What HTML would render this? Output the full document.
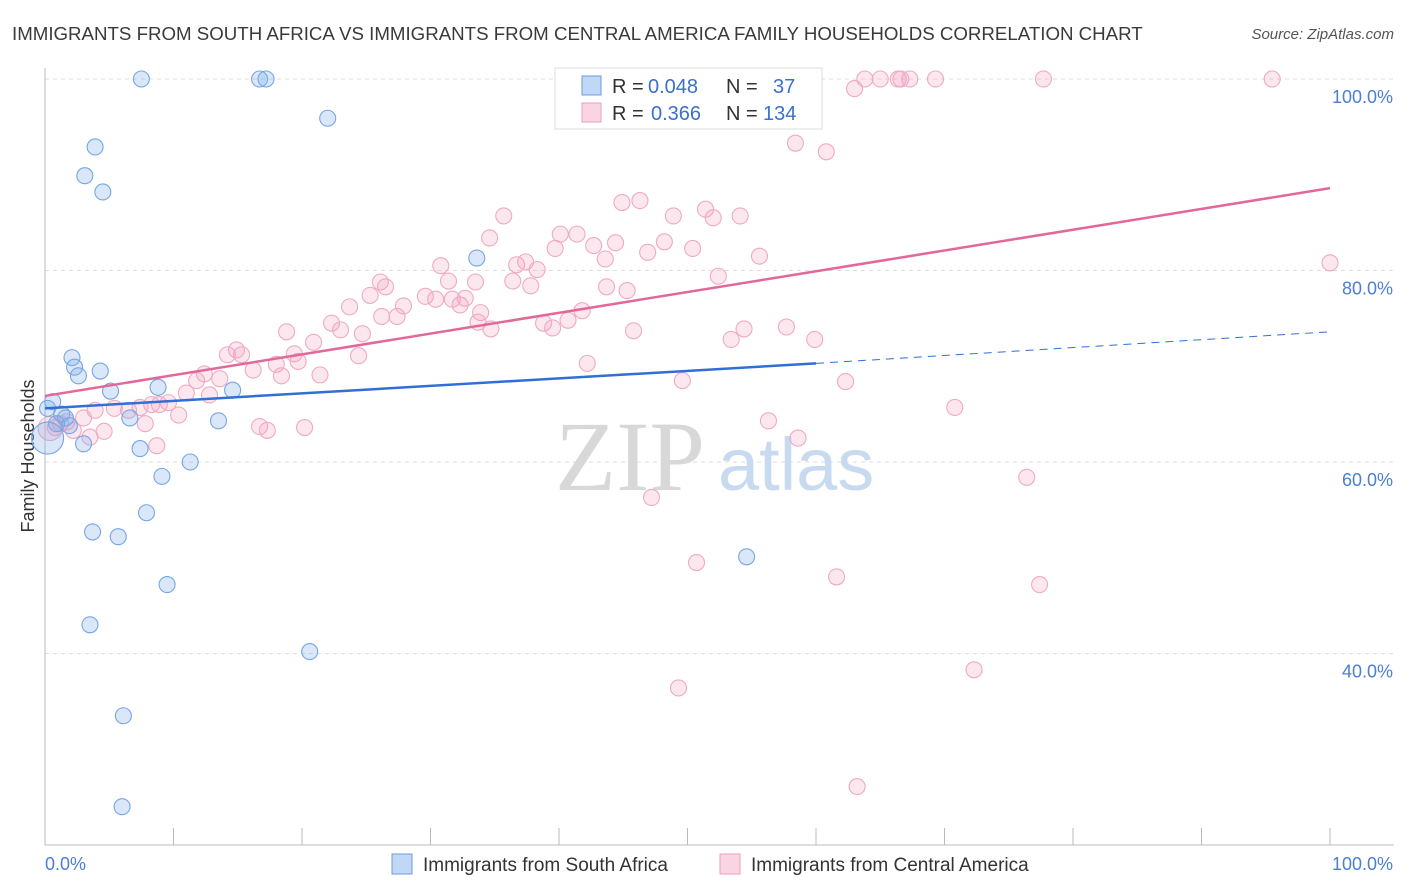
<!DOCTYPE html>
<html><head><meta charset="utf-8"><style>
body{margin:0;background:#fff;font-family:"Liberation Sans",sans-serif}
svg{display:block}
</style></head><body>
<svg id="chart" width="1406" height="892" xmlns="http://www.w3.org/2000/svg" font-family="Liberation Sans, sans-serif">
<text x="12" y="40" font-size="18.7" fill="#3a3a3a">IMMIGRANTS FROM SOUTH AFRICA VS IMMIGRANTS FROM CENTRAL AMERICA FAMILY HOUSEHOLDS CORRELATION CHART</text>
<text x="1394" y="39" font-size="15" fill="#555" font-style="italic" text-anchor="end">Source: ZipAtlas.com</text>
<g id="grid"></g>
<g>
<text x="555" y="490" font-size="100" fill="#d8d8d8" font-family="Liberation Serif, serif">ZIP</text>
<text x="718" y="490" font-size="74" fill="#c8daf0">atlas</text>
</g>
<line x1="45" y1="845" x2="1394" y2="845" stroke="#bbb"/>
<line x1="45" y1="68" x2="45" y2="845" stroke="#bbb"/>
<g id="xticks"></g>
<g id="ylabels"></g>
<text x="45" y="870" font-size="18" fill="#4a7fd4">0.0%</text>
<text x="1393" y="870" font-size="18" fill="#4a7fd4" text-anchor="end">100.0%</text>
<text transform="translate(34,456) rotate(-90)" font-size="18" fill="#333" text-anchor="middle">Family Households</text>
<g id="pink"></g>
<g id="blue"></g>
<g id="lines"></g>
<g>
<rect x="555" y="68" width="267" height="61" fill="#fff" stroke="#ddd"/>
<rect x="582" y="76" width="19" height="19" fill="rgba(130,175,235,0.5)" stroke="#6a9ee0"/>
<rect x="582" y="103" width="19" height="19" fill="rgba(245,160,190,0.45)" stroke="#e8a0b8"/>
<text x="612" y="93" font-size="20" fill="#333">R =</text>
<text x="648" y="93" font-size="20" fill="#3a70cc">0.048</text>
<text x="726" y="93" font-size="20" fill="#333">N =</text>
<text x="773" y="93" font-size="20" fill="#3a70cc">37</text>
<text x="612" y="120" font-size="20" fill="#333">R =</text>
<text x="651" y="120" font-size="20" fill="#3a70cc">0.366</text>
<text x="726" y="120" font-size="20" fill="#333">N =</text>
<text x="763" y="120" font-size="20" fill="#3a70cc">134</text>
</g>
<g>
<rect x="392" y="854" width="20" height="20" fill="rgba(130,175,235,0.5)" stroke="#6a9ee0"/>
<text x="423" y="871" font-size="19" fill="#333">Immigrants from South Africa</text>
<rect x="720" y="854" width="20" height="20" fill="rgba(245,160,190,0.45)" stroke="#e8a0b8"/>
<text x="751" y="871" font-size="19" fill="#333">Immigrants from Central America</text>
</g>
</svg>
<script>
const yTicks=[100,80,60,40];
const yTickLabels=["100.0%","80.0%","60.0%","40.0%"];
const xTicks=[0,10,20,30,40,50,60,70,80,90,100];
const blueX=[7.5,16.7,17.2,22.0,3.9,3.1,4.5,33.6,2.1,2.3,2.6,4.3,5.1,8.8,14.6,0.6,0.2,1.3,1.6,0.9,1.9,6.6,13.5,3.0,7.4,11.3,9.1,7.9,3.7,5.7,54.6,9.5,3.5,20.6,6.1,6.0,0.2];
const blueY=[100,100,100,95.9,92.9,89.9,88.2,81.3,70.9,69.9,69.0,69.5,67.4,67.8,67.5,66.3,65.6,65.0,64.6,64.0,63.8,64.6,64.3,61.9,61.4,60.0,58.5,54.7,52.7,52.2,50.1,47.2,43.0,40.2,33.5,24.0,62.5];
const pinkX=[55.6,63.8,65.0,66.4,67.3,69.3,77.7,95.5,63.0,66.6,47.6,58.4,60.8,35.7,34.6,44.9,46.3,48.9,51.4,54.1,52.0,40.1,41.4,42.7,44.4,39.7,43.6,46.9,48.2,50.4,55.6,52.4,100,30.8,31.4,33.5,36.7,37.4,38.3,36.4,37.8,43.7,45.3,26.1,26.5,25.3,29.6,30.4,31.7,32.3,32.7,27.9,23.7,27.4,26.2,33.9,33.7,34.7,41.8,40.7,38.8,39.5,45.8,53.4,54.4,57.7,59.9,22.3,23.0,24.7,20.9,18.8,24.4,19.4,19.7,15.3,14.9,14.2,18.0,16.2,18.4,21.4,42.2,49.6,62.3,12.4,13.6,11.8,11.0,12.8,9.6,8.9,10.4,7.4,8.3,6.5,5.4,3.9,3.0,2.2,1.7,1.2,0.8,4.6,3.5,7.8,8.7,16.7,17.3,20.2,70.8,56.3,58.6,76.4,47.2,50.7,61.6,77.4,72.3,49.3,63.2,0.4];
const pinkY=[100,100,100,100,100,100,100,100,99.0,100,95.6,93.3,92.4,85.7,83.4,87.1,87.3,85.7,86.4,85.7,85.5,83.8,83.8,82.6,82.9,82.3,81.2,81.9,83.0,82.3,81.5,79.4,80.8,80.5,78.9,78.8,80.6,80.9,80.1,78.9,78.4,78.3,77.9,78.8,78.3,77.4,77.3,77.0,77.0,76.4,77.1,76.3,76.2,75.2,75.2,75.6,74.6,73.9,75.8,74.8,74.5,74.0,73.7,72.8,73.9,74.1,72.8,74.5,73.8,73.4,72.5,73.6,71.1,71.3,70.5,71.2,71.7,71.2,70.2,69.6,69.0,69.1,70.3,68.5,68.4,69.2,68.7,68.5,67.2,67.0,66.2,66.0,64.9,65.7,66.0,65.4,65.6,65.4,64.6,63.3,64.2,64.0,63.6,63.2,62.6,64.0,61.7,63.7,63.3,63.6,65.7,64.3,62.5,58.4,56.3,49.5,48.0,47.2,38.3,36.4,26.1,63.5];
const blueTrend=[65.6,70.3,73.6];
const blueTrendX=[0,60,100];
const pinkTrend=[66.9,88.6];
const pinkTrendX=[0,100];
const NS="http://www.w3.org/2000/svg";
function sx(v){return 45+v*12.85;}
function sy(v){return 79+(100-v)*9.575;}
function mk(tag,attrs,parent){const e=document.createElementNS(NS,tag);for(const k in attrs)e.setAttribute(k,attrs[k]);parent.appendChild(e);return e;}
const grid=document.getElementById('grid');
yTicks.forEach((t,i)=>{
 const l=mk('line',{x1:45,x2:1394,y1:sy(t),y2:sy(t),stroke:'#ddd','stroke-dasharray':'4,4'},grid);
 
 
 const tx=mk('text',{x:1393,y:sy(t)+24,'font-size':18,fill:'#4a7fd4','text-anchor':'end'},document.getElementById('ylabels'));
 tx.textContent=yTickLabels[i];
 
 
});
xTicks.forEach(t=>{
 const l=mk('line',{x1:sx(t),x2:sx(t),y1:828,y2:845,stroke:'#bbb'},document.getElementById('xticks'));
 
 
});
const pg=document.getElementById('pink');
pinkX.forEach((x,i)=>{
 const big=i===pinkX.length-1;
 const c=mk('circle',{cx:sx(x),cy:sy(pinkY[i]),r:big?12:8,fill:'rgba(245,160,190,0.25)',stroke:'#eeaac2','stroke-width':1.1},pg);
 
 
});
const bg=document.getElementById('blue');
blueX.forEach((x,i)=>{
 const big=i===blueX.length-1;
 const c=mk('circle',{cx:sx(x),cy:sy(blueY[i]),r:big?16:8,fill:'rgba(130,175,235,0.3)',stroke:'#76a6e2','stroke-width':1.1},bg);
 
 
});
const lg=document.getElementById('lines');
const b1=mk('line',{x1:sx(blueTrendX[0]),y1:sy(blueTrend[0]),x2:sx(blueTrendX[1]),y2:sy(blueTrend[1]),stroke:'#2f6fd6','stroke-width':2.5},lg);


const b2=mk('line',{x1:sx(blueTrendX[1]),y1:sy(blueTrend[1]),x2:sx(blueTrendX[2]),y2:sy(blueTrend[2]),stroke:'#2f6fd6','stroke-width':1,'stroke-dasharray':'8,6'},lg);


const p1=mk('line',{x1:sx(pinkTrendX[0]),y1:sy(pinkTrend[0]),x2:sx(pinkTrendX[1]),y2:sy(pinkTrend[1]),stroke:'#e2679a','stroke-width':2.5},lg);


</script>
</body></html>
